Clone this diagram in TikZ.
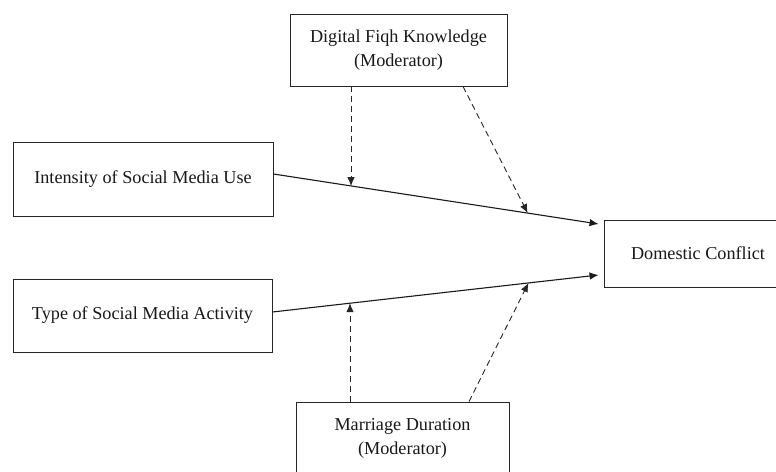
\documentclass[tikz,border=0pt]{standalone}
\usepackage{fontspec}
\setmainfont{Liberation Serif}
\usetikzlibrary{arrows.meta,calc}
\begin{document}
\begin{tikzpicture}[x=1pt,y=-1pt,
  box/.style={draw=black!85,line width=0.9pt,rectangle,align=center,inner sep=0pt,
    font=\fontsize{18.2}{24}\selectfont,text=black!90},
  mainarrow/.style={draw=black!90,line width=1.1pt,-{Latex[length=9pt,width=7.5pt]}},
  modarrow/.style={draw=black!85,line width=0.9pt,dash pattern=on 6pt off 4pt,-{Latex[length=9pt,width=7.5pt]}}]
\useasboundingbox[fill=white] (0,0) rectangle (776,471);
\node[box,minimum width=217,minimum height=72] (top) at (398.5,50) {Digital Fiqh Knowledge\\(Moderator)};
\node[box,minimum width=260,minimum height=74] (int) at (143,179) {Intensity of Social Media Use};
\node[box,minimum width=259,minimum height=73] (typ) at (142.5,315.5) {Type of Social Media Activity};
\node[box,minimum width=188,minimum height=67] (dc) at (698,253.5) {Domestic Conflict};
\node[box,minimum width=213,minimum height=72] (md) at (402.5,438) {Marriage Duration\\(Moderator)};
\coordinate (s1) at ($(int.east)+(0,-5)$);
\coordinate (e1) at ($(dc.west)+(-5,-29.5)$);
\coordinate (s2) at ($(typ.east)+(0,-3.5)$);
\coordinate (e2) at ($(dc.west)+(-5,21.5)$);
\draw[mainarrow] (s1) -- (e1);
\draw[mainarrow] (s2) -- (e2);
\path (s1) -- (e1) coordinate[pos=0.243] (m1) coordinate[pos=0.782] (m2);
\path (s2) -- (e2) coordinate[pos=0.24] (m3) coordinate[pos=0.785] (m4);
\coordinate (t1) at ($(top.south)+(-47.5,0)$);
\coordinate (t2) at ($(top.south)+(64.5,0)$);
\coordinate (b1) at ($(md.north)+(-52.5,0)$);
\coordinate (b2) at ($(md.north)+(66.5,0)$);
\draw[modarrow] (t1) -- (t1 |- m1);
\draw[modarrow] (t2) -- (m2);
\draw[modarrow] (b1) -- (b1 |- m3);
\draw[modarrow] (b2) -- (m4);
\end{tikzpicture}
\end{document}
